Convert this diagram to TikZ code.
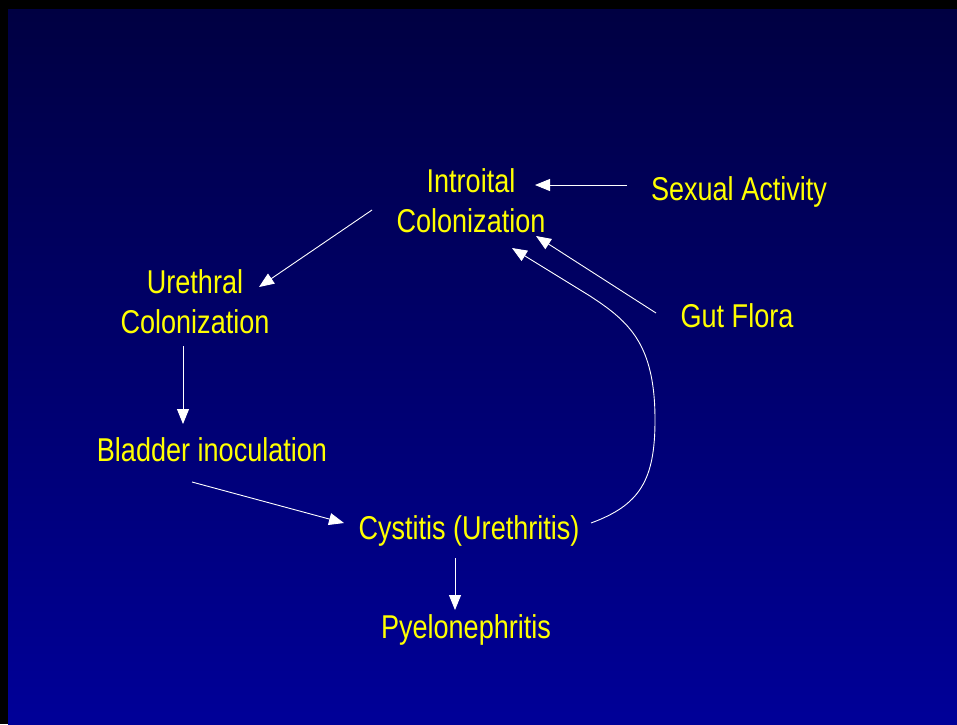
\documentclass[tikz,border=0pt]{standalone}
\usepackage{fontspec}
\setmainfont{Liberation Sans}[FakeStretch=0.82]
\usetikzlibrary{arrows.meta}
\definecolor{bgtop}{RGB}{0,0,66}
\definecolor{bgbot}{RGB}{0,0,152}
\definecolor{txt}{RGB}{255,255,0}
\tikzset{
  lbl/.style={text=txt, font=\fontsize{33}{40}\selectfont, inner sep=0pt, align=center},
  conn/.style={draw=white, line width=0.9pt, -{Triangle[length=15pt,width=12pt]}},
}
\begin{document}
\begin{tikzpicture}[x=1pt,y=-1pt]
\useasboundingbox (0,0) rectangle (957,724);
\fill[black] (0,0) rectangle (957,724);
\shade[top color=bgtop, bottom color=bgbot] (8,9) rectangle (957,724);

\node[lbl] (intro) at (471,201) {Introital\\Colonization};
\node[lbl, anchor=base] (sex) at (739,200) {Sexual Activity};
\node[lbl] (ureth) at (195,302) {Urethral\\Colonization};
\node[lbl, anchor=base] (gut) at (737,327) {Gut Flora};
\node[lbl, anchor=base] (blad) at (212,461) {Bladder inoculation};
\node[lbl, anchor=base] (cyst) at (469,539) {Cystitis (Urethritis)};
\node[lbl, anchor=base] (pyel) at (466,638) {Pyelonephritis};

\coordinate (sexS) at (627,185);
\coordinate (sexE) at (535,185);
\coordinate (intS) at (372,210);
\coordinate (intE) at (259,287);
\coordinate (urS) at (183,346);
\coordinate (urE) at (183,424);
\coordinate (blS) at (192,482);
\coordinate (blE) at (344,523);
\coordinate (cyS) at (455,558);
\coordinate (cyE) at (455,610);
\coordinate (gtS) at (656,313);
\coordinate (gtE) at (536,236);
\coordinate (crS) at (591,523);
\coordinate (crE) at (512,248);

\draw[conn] (sexS) -- (sexE);
\draw[conn] (intS) -- (intE);
\draw[conn] (urS) -- (urE);
\draw[conn] (blS) -- (blE);
\draw[conn] (cyS) -- (cyE);
\draw[conn] (gtS) -- (gtE);
\draw[conn] (crS) .. controls (640,505) and (655,480) .. (655,420)
  .. controls (655,345) and (630,322) .. (590,296) -- (crE);
\end{tikzpicture}
\end{document}
